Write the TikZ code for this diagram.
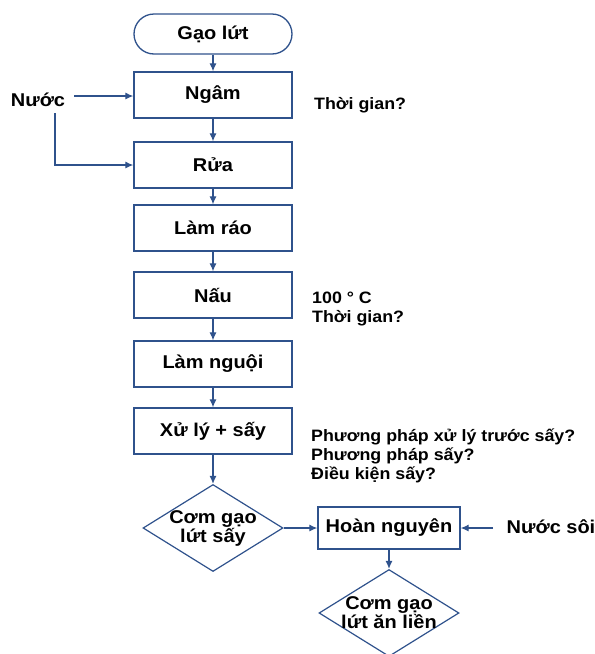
\documentclass[tikz,border=0pt]{standalone}
\usepackage{fontspec}
\setmainfont{Liberation Sans}[FakeStretch=1.08]
\usetikzlibrary{shapes.geometric,arrows.meta}
\definecolor{flowblue}{RGB}{47,82,140}

\begin{document}
\begin{tikzpicture}[x=1pt,y=-1pt,
  font=\fontsize{18.5}{19}\selectfont\bfseries,
  box/.style={draw=flowblue,line width=1.3pt,minimum width=158pt,minimum height=46pt,inner sep=0pt},
  term/.style={box,rounded corners=20pt,minimum height=40pt},
  choice/.style={draw=flowblue,line width=1.2pt,diamond,minimum width=140pt,minimum height=87pt,inner sep=0pt},
  flow/.style={draw=flowblue,line width=1.2pt,-{Latex[length=8pt,width=7pt]}},
  note/.style={anchor=west,align=left,inner sep=0pt,font=\fontsize{16.5}{19}\selectfont\bfseries}]
\useasboundingbox (0,0) rectangle (595,654);
\node[term] (gao) at (213,34) {Gạo lứt};
\foreach \n/\y/\t in {ngam/95/Ngâm,rua/165/Rửa,lamrao/228/Làm ráo,nau/295/Nấu,nguoi/364/Làm nguội,xuly/431/Xử lý + sấy}
  \node[box] (\n) at (213,\y) {\t};
\node[choice,label={[align=center]center:Cơm gạo\\lứt sấy}] (comsay) at (213,528) {};
\node[box,minimum width=142pt,minimum height=42pt] (hoan) at (389,528) {Hoàn nguyên};
\node[choice,label={[align=center]center:Cơm gạo\\lứt ăn liền}] (anlien) at (389,613) {};
\node (nuoc) at (38,100) {Nước};
\node (nuocsoi) at (551,527) {Nước sôi};
\coordinate (nuocA) at (74,96);
\coordinate (nuocB) at (55,113);
\coordinate (soiA) at (493,528);
% ghi chu
\node[note] (tg1) at (314,105) {Thời gian?};
\node[note] (tg2) at (312,309) {100 ° C\\Thời gian?};
\node[note] (ppsay) at (311,456) {Phương pháp xử lý trước sấy?\\Phương pháp sấy?\\Điều kiện sấy?};
% mui ten
\foreach \a/\b in {gao/ngam,ngam/rua,rua/lamrao,lamrao/nau,nau/nguoi,nguoi/xuly,xuly/comsay}
  \draw[flow] (\a) -- (\b);
\draw[flow] (comsay) -- (hoan);
\draw[flow] (hoan) -- (anlien);
\draw[flow] (nuocA) -- (ngam.west |- nuocA);
\draw[flow] (nuocB) |- (rua.west);
\draw[flow] (soiA) -- (hoan.east |- soiA);
\end{tikzpicture}
\end{document}
